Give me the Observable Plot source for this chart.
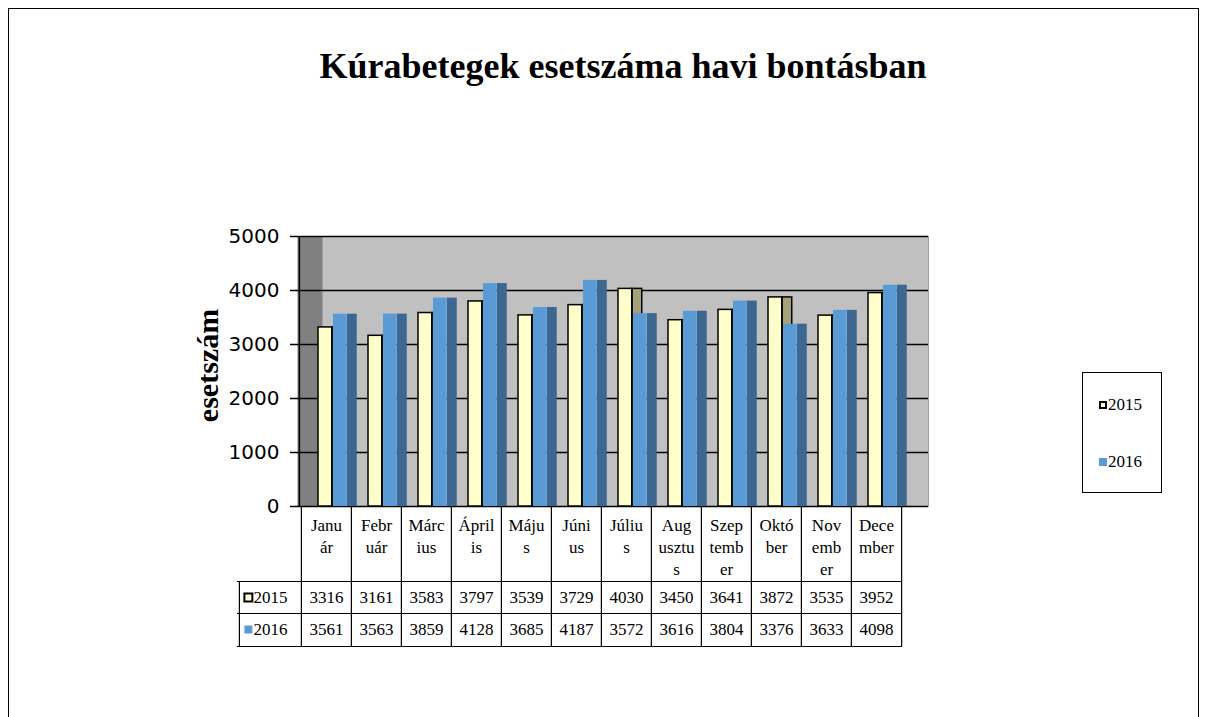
<!DOCTYPE html>
<html>
<head>
<meta charset="utf-8">
<script src="https://cdn.jsdelivr.net/npm/d3@7"></script>
<script src="https://cdn.jsdelivr.net/npm/@observablehq/plot@0.6"></script>
<style>
  html, body { margin: 0; padding: 0; background: white; }
  body { width: 1206px; height: 717px; position: relative; overflow: hidden; font-family: "Liberation Serif", serif; }
  #border { position: absolute; left: 8px; top: 8px; width: 1191px; height: 740px; border: 1px solid black; border-bottom: none; box-sizing: border-box; }
  #title { position: absolute; left: 0; top: 48px; width: 1246px; text-align: center; font: bold 36px/36px "Liberation Serif", serif; white-space: nowrap; }
  #chart { position: absolute; left: 0; top: 130px; }
  #legend { position: absolute; left: 1082px; top: 372px; width: 80px; height: 121px; border: 1px solid black; box-sizing: border-box; background: white; font: 17px "Liberation Serif", serif; }
  .item { position: absolute; left: 16px; display: flex; align-items: center; white-space: nowrap; }
  .key { width: 8px; height: 8px; box-sizing: border-box; margin-right: 1px; }
</style>
</head>
<body>
<div id="border"></div>
<div id="title">Kúrabetegek esetszáma havi bontásban</div>
<div id="chart"></div>
<div id="legend">
  <div class="item" style="top:22px"><span class="key" style="background:#ffffcc;border:2px solid black"></span>2015</div>
  <div class="item" style="top:79px"><span class="key" style="background:#5b9bd5"></span>2016</div>
</div>
<script>
const months = ["Január","Február","Március","Április","Május","Június","Július","Augusztus","Szeptember","Október","November","December"];
const headerLabels = ["Janu\nár","Febr\nuár","Márc\nius","Ápril\nis","Máju\ns","Júni\nus","Júliu\ns","Aug\nusztu\ns","Szep\ntemb\ner","Októ\nber","Nov\nemb\ner","Dece\nmber"];
const series = ["2015","2016"];
const values2015 = [3316,3161,3583,3797,3539,3729,4030,3450,3641,3872,3535,3952];
const values2016 = [3561,3563,3859,4128,3685,4187,3572,3616,3804,3376,3633,4098];
const yTicks = [0,1000,2000,3000,4000,5000];

const d2015 = months.map((m,i) => ({month: m, value: values2015[i]}));
const d2016 = months.map((m,i) => ({month: m, value: values2016[i]}));

const bw = (902 - 299) / 12;
const serif = "Liberation Serif";

const chart = Plot.plot({
  width: 1206,
  height: 560,
  marginTop: 106,
  marginBottom: 184,
  marginLeft: 297,
  marginRight: 278,
  style: {background: "transparent", color: "black", fontFamily: serif},
  x: {type: "band", domain: months, range: [299, 902], padding: 0, axis: null},
  y: {domain: [0, 5000], axis: null},
  marks: [
    // side wall and back wall
    Plot.frame({fill: "#808080", insetRight: 606}),
    Plot.frame({fill: "#c0c0c0", insetLeft: 25, stroke: "#a0a0a0"}),
    // gridlines
    Plot.ruleY(yTicks, {y: d => d, stroke: "black", strokeWidth: 1.5}),
    // y axis
    Plot.axisY({ticks: yTicks, tickSize: 7, tickPadding: 11, fontSize: 20, fontFamily: "DejaVu Sans", strokeWidth: 1.5, label: null, tickFormat: d => String(d)}),
    Plot.ruleX([months[0]], {x: d => d, dx: -bw / 2 - 2, stroke: "black", strokeWidth: 1.5}),
    Plot.text(["esetszám"], {frameAnchor: "left", dx: -89, dy: -6, rotate: -90, textAnchor: "middle", lineAnchor: "middle", text: d => d, fontSize: 30, fontWeight: "bold", fontFamily: serif}),
    // 2015 bars (side then front)
    Plot.barY(d2015, {x: "month", y: "value", fill: "#a5a27b", stroke: "black", strokeWidth: 1.5, insetLeft: 31, insetRight: bw - 41}),
    Plot.barY(d2015, {x: "month", y: "value", fill: "#ffffcc", stroke: "black", strokeWidth: 1.5, insetLeft: 17, insetRight: bw - 31}),
    // 2016 bars (front then side)
    Plot.barY(d2016, {x: "month", y: "value", fill: "#5b9bd5", insetLeft: 32, insetRight: bw - 46}),
    Plot.barY(d2016, {x: "month", y: "value", fill: "#3b6790", insetLeft: 46, insetRight: bw - 56}),
    // data table: vertical lines
    Plot.ruleX(months, {x: d => d, dx: -bw / 2, insetTop: 270, insetBottom: -140, stroke: "black", strokeWidth: 1.2}),
    Plot.ruleX([months[11]], {x: d => d, dx: bw / 2, insetTop: 270, insetBottom: -140, stroke: "black", strokeWidth: 1.2}),
    Plot.ruleX([months[0]], {x: d => d, dx: -bw / 2 - 62, insetTop: 270 + 75, insetBottom: -140, stroke: "black", strokeWidth: 1.2}),
    // data table: horizontal lines
    Plot.ruleY([0], {dy: 75, insetLeft: -60, insetRight: 26, stroke: "black", strokeWidth: 1.2}),
    Plot.ruleY([0], {dy: 107, insetLeft: -60, insetRight: 26, stroke: "black", strokeWidth: 1.2}),
    Plot.ruleY([0], {dy: 140, insetLeft: -60, insetRight: 26, stroke: "black", strokeWidth: 1.2}),
    // header labels
    Plot.text(months, {x: d => d, text: (d, i) => headerLabels[i], frameAnchor: "bottom", dy: 9, lineAnchor: "top", lineHeight: 1.3, fontSize: 17, fontFamily: serif}),
    // value rows
    Plot.text(months, {x: d => d, text: (d, i) => String(values2015[i]), frameAnchor: "bottom", dy: 91, lineAnchor: "middle", fontSize: 17, fontFamily: serif}),
    Plot.text(months, {x: d => d, text: (d, i) => String(values2016[i]), frameAnchor: "bottom", dy: 123, lineAnchor: "middle", fontSize: 17, fontFamily: serif}),
    // row keys
    Plot.dot([series[0]], {x: () => months[0], frameAnchor: "bottom", dx: -bw / 2 - 53, dy: 91, symbol: "square", r: 4.5, fill: "#ffffcc", stroke: "black", strokeWidth: 2}),
    Plot.dot([series[1]], {x: () => months[0], frameAnchor: "bottom", dx: -bw / 2 - 53, dy: 123, symbol: "square", r: 4.5, fill: "#5b9bd5"}),
    Plot.text([series[0]], {x: () => months[0], text: d => d, frameAnchor: "bottom", dx: -bw / 2 - 48, dy: 91, textAnchor: "start", lineAnchor: "middle", fontSize: 17, fontFamily: serif}),
    Plot.text([series[1]], {x: () => months[0], text: d => d, frameAnchor: "bottom", dx: -bw / 2 - 48, dy: 123, textAnchor: "start", lineAnchor: "middle", fontSize: 17, fontFamily: serif})
  ]
});
document.getElementById("chart").appendChild(chart);
</script>
</body>
</html>
